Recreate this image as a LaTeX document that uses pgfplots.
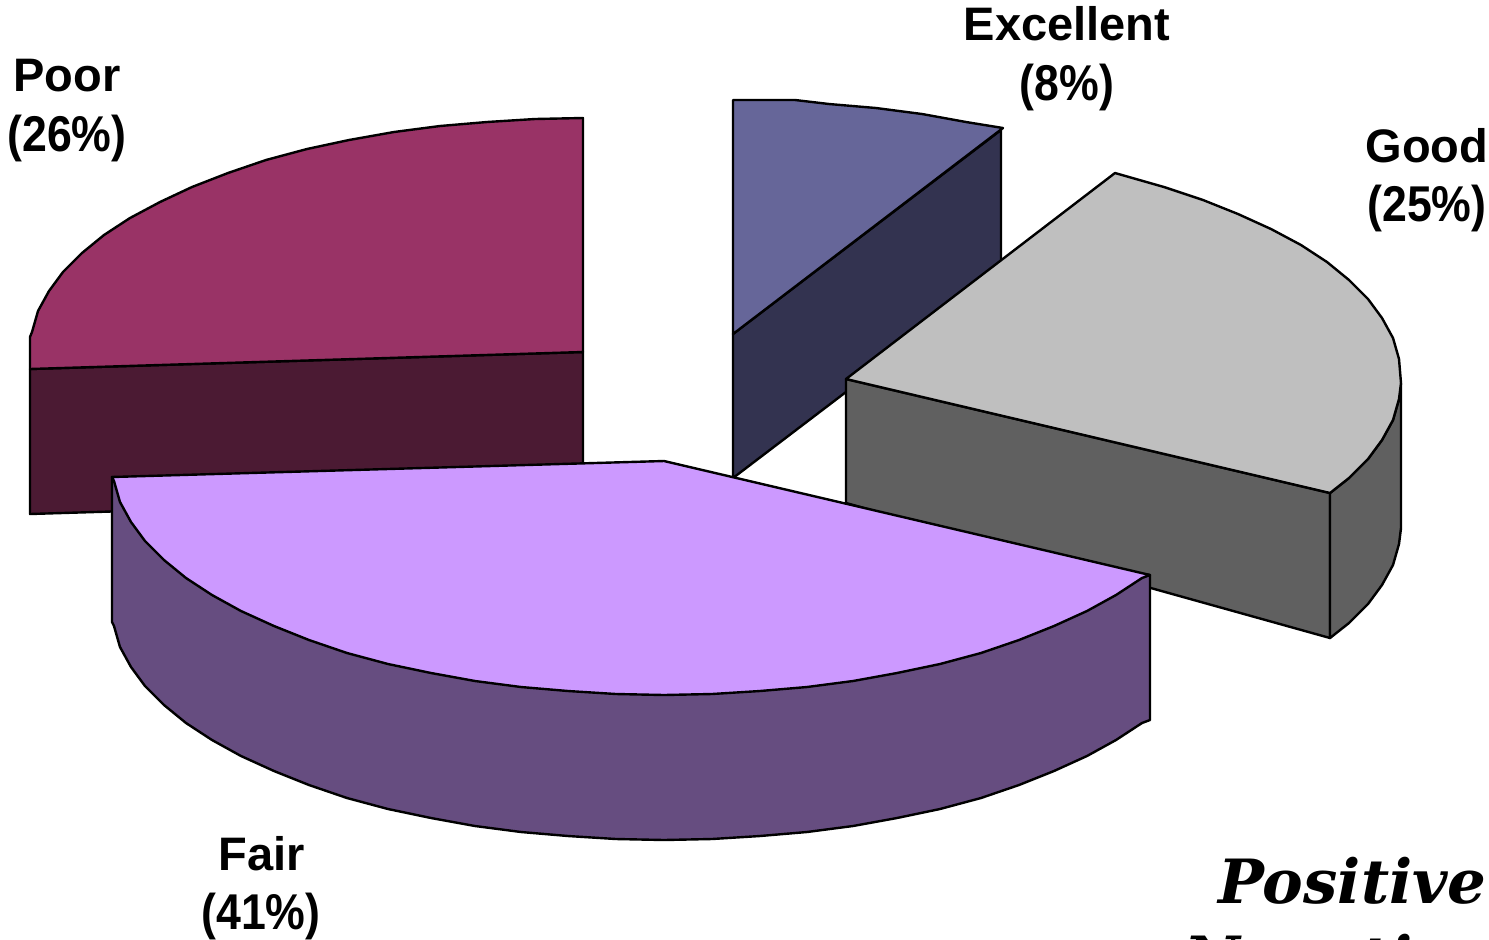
\documentclass[border=0pt]{standalone}
\usepackage{fontspec}
\setmainfont{Liberation Sans}
\newfontfamily\posfont{DejaVu Serif}
\usepackage{graphicx}
\usepackage{pgfplots}
\pgfplotsset{compat=1.18}
\definecolor{exctop}{HTML}{666699}
\definecolor{excside}{HTML}{333350}
\definecolor{goodtop}{HTML}{BFBFBF}
\definecolor{goodside}{HTML}{606060}
\definecolor{fairtop}{HTML}{CC99FF}
\definecolor{fairside}{HTML}{664D80}
\definecolor{poortop}{HTML}{993366}
\definecolor{poorside}{HTML}{4B1A33}
\tikzset{lab/.style={font=\fontsize{23.5}{28}\selectfont\bfseries, inner sep=0pt, anchor=center},
  big/.style={overlay, anchor=base east, inner sep=0pt, font=\fontsize{30.5}{34}\posfont\bfseries\itshape}}
\newcommand{\pct}[1]{\scalebox{.95}[1.07]{#1}}
\begin{document}
\begin{tikzpicture}
\useasboundingbox (0,0) rectangle (744.5pt,469.5pt);
\begin{axis}[
  at={(0,0)}, anchor=south west,
  scale only axis, width=744.5pt, height=469.5pt,
  xmin=0, xmax=1489, ymin=0, ymax=939, y dir=reverse,
  hide axis, clip=false,
  every axis plot/.append style={draw=black, line width=1.2pt, line join=round, mark=none},
]
% Excellent
\addplot[fill=excside] coordinates {(733,334)(1001,130)(1001,274)(733,478)} -- cycle;
\addplot[fill=exctop] coordinates {(733,100)(795,100)(829,104)(876,108)(922,114)(966,122)(1003,128)(733,334)} -- cycle;
% Good
\addplot[fill=goodside] coordinates {(846,379)(1330,493)(1330,638)(846,503)} -- cycle;
\addplot[fill=goodside] coordinates {(1330,493)(1349,478)(1368,459)(1382,440)(1393,420)(1399,399)(1401,383)(1401,528)(1399,544)(1393,565)(1382,585)(1368,604)(1349,623)(1330,638)} -- cycle;
\addplot[fill=goodtop] coordinates {(846,379)(1115,173)(1164,187)(1203,200)(1238,214)(1271,229)(1301,245)(1327,262)(1349,280)(1368,299)(1382,318)(1393,338)(1399,359)(1401,383)(1399,399)(1393,420)(1382,440)(1368,459)(1349,478)(1330,493)} -- cycle;
% Poor
\addplot[fill=poorside] coordinates {(30,369)(583,352)(583,497)(30,514)} -- cycle;
\addplot[fill=poortop] coordinates {(583,118)(535,119)(487,122)(440,126)(394,132)(349,140)(307,149)(266,160)(228,173)(192,187)(160,202)(130,218)(104,235)(82,253)(63,272)(49,291)(38,311)(32,332)(30,337)(30,369)(583,352)} -- cycle;
% Fair
\addplot[fill=fairside] coordinates {(112,477)(112,622)(114,626)(120,647)(131,667)(145,686)(164,705)(186,723)(212,740)(241,756)(274,771)(309,785)(347,798)(388,809)(431,818)(475,826)(521,832)(568,836)(616,839)(664,840)(712,839)(760,836)(807,832)(853,826)(897,818)(940,809)(981,798)(1019,785)(1054,771)(1087,756)(1116,740)(1142,723)(1150,720)(1150,575)} -- cycle;
\addplot[fill=fairtop] coordinates {(112,477)(664,461)(1150,575)(1142,578)(1116,595)(1087,611)(1054,626)(1019,640)(981,653)(940,664)(897,673)(853,681)(807,687)(760,691)(712,694)(664,695)(616,694)(568,691)(521,687)(475,681)(431,673)(388,664)(347,653)(309,640)(274,626)(241,611)(212,595)(186,578)(164,560)(145,541)(131,522)(120,502)(114,481)} -- cycle;
% Labels
\node[lab] at (axis cs:1067,24) {Excellent};
\node[lab] at (axis cs:1067,87) {\pct{(8\%)}};
\node[lab] at (axis cs:1427,146) {Good};
\node[lab] at (axis cs:1427,208) {\pct{(25\%)}};
\node[lab] at (axis cs:67,76) {Poor};
\node[lab] at (axis cs:67,138) {\pct{(26\%)}};
\node[lab] at (axis cs:262,854) {Fair};
\node[lab] at (axis cs:261,916) {\pct{(41\%)}};
\node[big] at (axis cs:1487,903) {Positive};
\node[big] at (axis cs:1487,980) {Negative};
\end{axis}
\end{tikzpicture}
\end{document}
